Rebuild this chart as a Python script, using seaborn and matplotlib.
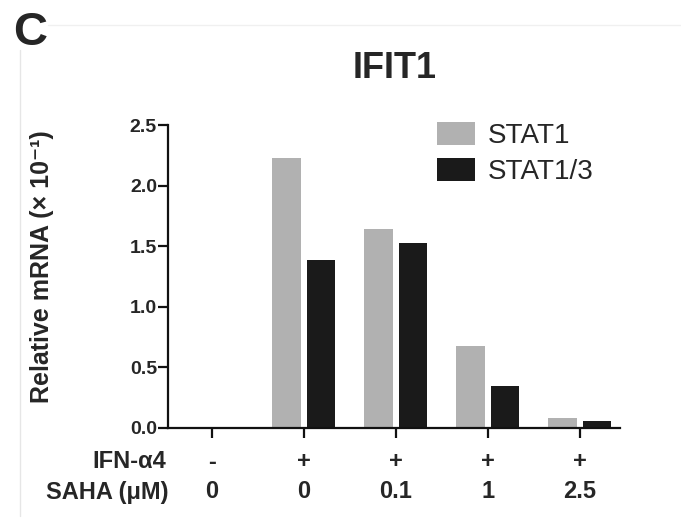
import pandas as pd
import matplotlib.pyplot as plt
import seaborn as sns
from matplotlib import transforms
from matplotlib.lines import Line2D

sns.set_style("white")
plt.rcParams['font.family'] = ['Liberation Sans', 'DejaVu Sans']

# data
groups = ['g1', 'g2', 'g3', 'g4', 'g5']
ifn_row = ['-', '+', '+', '+', '+']
saha_row = ['0', '0', '0.1', '1', '2.5']
stat1 = [0.0, 2.23, 1.64, 0.68, 0.08]
stat13 = [0.0, 1.39, 1.53, 0.35, 0.06]
series = ['STAT1', 'STAT1/3']
colors = ['#b1b1b1', '#1a1a1a']

df = pd.DataFrame({
    'group': groups * 2,
    'value': stat1 + stat13,
    'series': [series[0]] * 5 + [series[1]] * 5,
})

fig = plt.figure(figsize=(6.81, 5.21), dpi=100)
ax = fig.add_axes([168 / 681, 1 - 428 / 521, 452 / 681, 303 / 521])

sns.barplot(data=df, x='group', y='value', hue='series', palette=colors,
            width=0.74, gap=0.15, linewidth=0, saturation=1, ax=ax)

ax.set_xlim(-0.478, 4.435)
ax.set_ylim(0, 2.5)
ax.set_yticks([0, 0.5, 1.0, 1.5, 2.0, 2.5])
ax.set_yticklabels(['0.0', '0.5', '1.0', '1.5', '2.0', '2.5'], fontsize=14, fontweight='bold')
ax.set_xticklabels([])
ax.set_xlabel('')
ax.set_ylabel('')
sns.despine(ax=ax)
for s in ['left', 'bottom']:
    ax.spines[s].set_linewidth(1.6)
    ax.spines[s].set_color('#111111')
ax.tick_params(axis='y', direction='out', length=7, width=1.6, pad=1, left=True, color='#111111')
ax.tick_params(axis='x', direction='out', length=7, width=1.6, bottom=True, color='#111111')

# two rows of condition labels under the axis
trans = transforms.blended_transform_factory(ax.transData, fig.transFigure)
for i in range(len(groups)):
    ax.text(i, 1 - 462 / 521, ifn_row[i], transform=trans, ha='center', va='center',
            fontsize=17, fontweight='bold')
    ax.text(i, 1 - 492 / 521, saha_row[i], transform=trans, ha='center', va='center',
            fontsize=17, fontweight='bold')
fig.text(166 / 681, 1 - 462 / 521, 'IFN-α4', ha='right', va='center', fontsize=17, fontweight='bold')
fig.text(169 / 681, 1 - 492 / 521, 'SAHA (μM)', ha='right', va='center', fontsize=17, fontweight='bold')

fig.text(42 / 681, 1 - 267 / 521, 'Relative mRNA (× 10⁻¹)', rotation=90, ha='center', va='center',
         fontsize=18, fontweight='bold')
fig.text(395 / 681, 1 - 69 / 521, 'IFIT1', ha='center', va='center', fontsize=26, fontweight='bold')
fig.text(30 / 681, 1 - 33 / 521, 'C', ha='center', va='center', fontsize=34, fontweight='bold')

# faint panel frame lines
fig.add_artist(Line2D([20 / 681, 20 / 681], [1 - 50 / 521, 0.01], color='#e6e6e6', lw=1,
                      transform=fig.transFigure))
fig.add_artist(Line2D([48 / 681, 1.0], [1 - 25 / 521, 1 - 25 / 521], color='#f0f0f0', lw=1,
                      transform=fig.transFigure))

handles, labels = ax.get_legend_handles_labels()
ax.legend(handles, labels, loc='upper left', bbox_to_anchor=(437 / 681, 1 - 122 / 521),
          bbox_transform=fig.transFigure, frameon=False, fontsize=20, borderpad=0,
          borderaxespad=0, handlelength=1.37, handleheight=0.9, handletextpad=0.47,
          labelspacing=0.33)

fig.savefig('out.png', dpi=100)
